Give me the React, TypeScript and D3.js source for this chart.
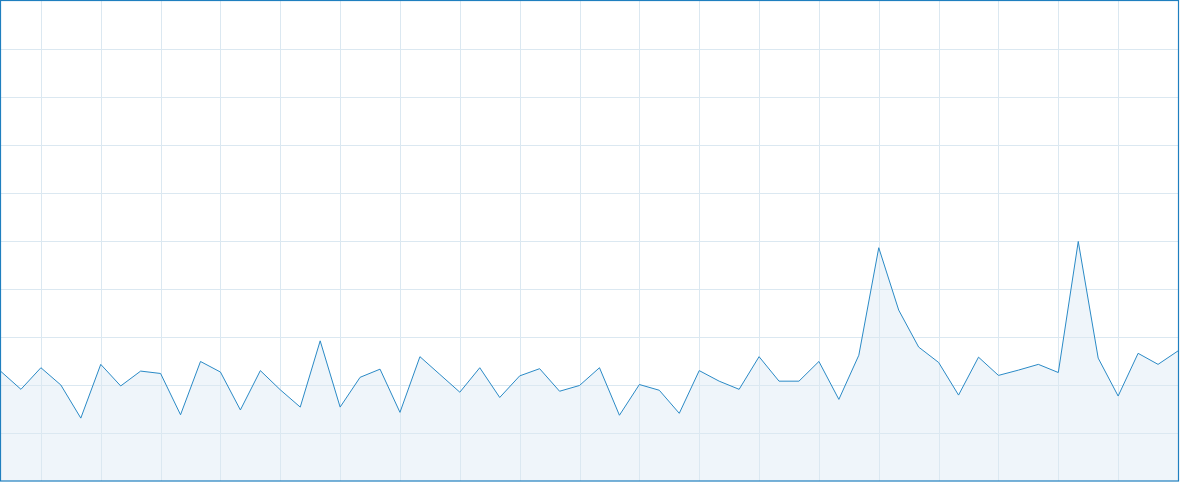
import { useRef, useEffect } from "react";
import * as d3 from "d3";

const WIDTH = 1182;
const HEIGHT = 486;

// one value per sample, grid line every 10 units
const values: number[] = [
  22.8, 19.1, 23.6, 20.0, 13.1, 24.3, 19.8, 22.9, 22.4, 13.8,
  24.9, 22.7, 14.8, 23.0, 19.0, 15.4, 29.2, 15.4, 21.6, 23.3,
  14.3, 25.9, 22.2, 18.5, 23.6, 17.4, 21.9, 23.4, 18.7, 19.9,
  23.6, 13.7, 20.1, 18.9, 14.1, 23.0, 20.8, 19.1, 25.9, 20.8,
  20.8, 24.9, 17.0, 26.2, 48.6, 35.6, 27.9, 24.7, 17.9, 25.8,
  22.0, 23.1, 24.3, 22.6, 49.9, 25.6, 17.7, 26.6, 24.3, 27.1,
];

const yTicks: number[] = [10, 20, 30, 40, 50, 60, 70, 80, 90];
const xGridIndices: number[] = d3.range(2, values.length, 3);

const LINE = "#2a8ac6";
const FILL = "#eff5fa";
const GRID = "#dbe8f1";
const FRAME = "#1f7fbf";

export default function App() {
  const svgRef = useRef<SVGSVGElement>(null);

  useEffect(() => {
    if (!svgRef.current) return;
    const svg = d3.select(svgRef.current);
    svg.selectAll("*").remove();

    const left = 1;
    const right = 1178;
    const top = 1;
    const bottom = 481;

    const x = d3.scaleLinear().domain([0, values.length - 1]).range([left, right]);
    const y = d3.scaleLinear().domain([0, 100]).range([bottom, top]);

    // area fill
    const area = d3
      .area<number>()
      .x((_, i) => x(i))
      .y0(y(0))
      .y1((d) => y(d));
    svg.append("path").datum(values).attr("d", area).attr("fill", FILL);

    // grid
    svg
      .append("g")
      .selectAll("line")
      .data(yTicks)
      .join("line")
      .attr("x1", left)
      .attr("x2", right + 1)
      .attr("y1", (d) => Math.round(y(d)) + 0.5)
      .attr("y2", (d) => Math.round(y(d)) + 0.5)
      .attr("stroke", GRID)
      .attr("stroke-width", 1);

    svg
      .append("g")
      .selectAll("line")
      .data(xGridIndices)
      .join("line")
      .attr("x1", (d) => Math.round(x(d)) + 0.5)
      .attr("x2", (d) => Math.round(x(d)) + 0.5)
      .attr("y1", top)
      .attr("y2", bottom)
      .attr("stroke", GRID)
      .attr("stroke-width", 1);

    // line
    const line = d3
      .line<number>()
      .x((_, i) => x(i))
      .y((d) => y(d));
    svg
      .append("path")
      .datum(values)
      .attr("d", line)
      .attr("fill", "none")
      .attr("stroke", LINE)
      .attr("stroke-width", 1)
      .attr("stroke-linejoin", "miter");

    // frame
    svg
      .append("rect")
      .attr("x", 0.5)
      .attr("y", 0.5)
      .attr("width", right - 0.5 + 0.5)
      .attr("height", bottom - 0.5)
      .attr("fill", "none")
      .attr("stroke", FRAME)
      .attr("stroke-width", 1.2);
  }, []);

  return (
    <svg
      ref={svgRef}
      width={WIDTH}
      height={HEIGHT}
      style={{ position: "absolute", left: 0, top: 0, background: "#fff" }}
    />
  );
}
